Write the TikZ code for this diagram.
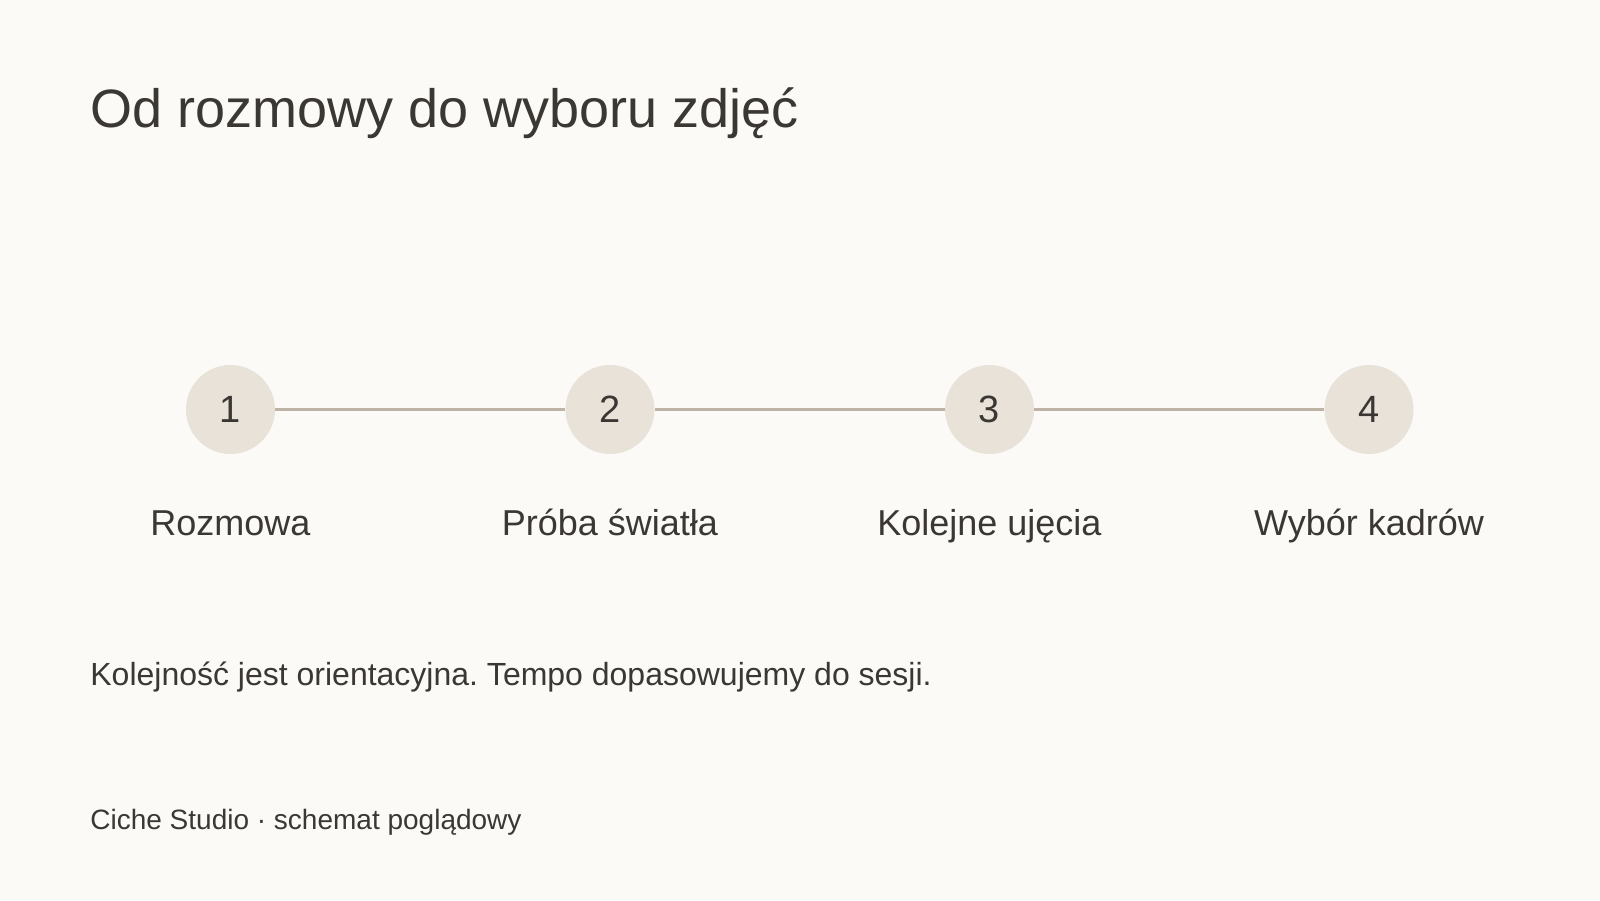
\documentclass[tikz,border=0pt]{standalone}
\usepackage{fontspec}
\setmainfont{Liberation Sans}
\frenchspacing
\definecolor{bg}{HTML}{FBFAF7}
\definecolor{ink}{HTML}{3B3733}
\definecolor{disc}{HTML}{E8E2D9}
\definecolor{rule}{HTML}{BDB3A6}
\begin{document}
\begin{tikzpicture}[x=0.5pt,y=-0.5pt,
  stepdisc/.style={circle,fill=disc,minimum size=44.5pt,inner sep=0pt,text=ink,font=\fontsize{19}{22}\selectfont},
  steplabel/.style={anchor=base,text=ink,inner sep=0pt,font=\fontsize{18}{21}\selectfont},
  link/.style={draw=rule,line width=1.5pt}]
\fill[bg] (0,0) rectangle (1600,900);
\useasboundingbox (0,0) rectangle (1600,900);
\node[anchor=base west,inner sep=0pt,text=ink,font=\fontsize{27}{32}\selectfont] (title) at (90,127) {Od rozmowy do wyboru zdjęć};
\node[stepdisc] (s1) at (230.5,409.5) {1};
\node[stepdisc] (s2) at (610,409.5) {2};
\node[stepdisc] (s3) at (989.5,409.5) {3};
\node[stepdisc] (s4) at (1369,409.5) {4};
\draw[link] (s1) -- (s2);
\draw[link] (s2) -- (s3);
\draw[link] (s3) -- (s4);
\node[steplabel] (l1) at (230.5,535) {Rozmowa};
\node[steplabel] (l2) at (610,535) {Próba światła};
\node[steplabel] (l3) at (989.5,535) {Kolejne ujęcia};
\node[steplabel] (l4) at (1369,535) {Wybór kadrów};
\node[anchor=base west,inner sep=0pt,text=ink,font=\fontsize{16}{20}\selectfont] (note) at (90,685) {Kolejność jest orientacyjna. Tempo dopasowujemy do sesji.};
\node[anchor=base west,inner sep=0pt,text=ink,font=\fontsize{14}{17}\selectfont] (foot) at (90,829) {Ciche Studio · schemat poglądowy};
\end{tikzpicture}
\end{document}
